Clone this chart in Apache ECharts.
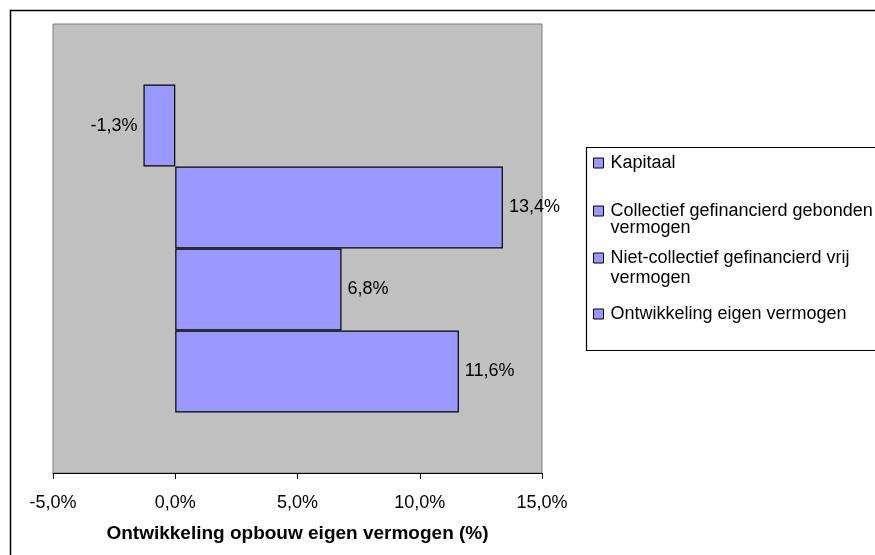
<!DOCTYPE html>
<html>
<head>
<meta charset="utf-8">
<script src="https://cdn.jsdelivr.net/npm/echarts@6/dist/echarts.min.js"></script>
<style>
  html, body { margin: 0; padding: 0; background: #fff; }
  #chart { width: 875px; height: 555px; }
</style>
</head>
<body>
<div id="chart"></div>
<script>
// Series names (legend order) and their values in percent
const seriesNames = [
  'Kapitaal',
  'Collectief gefinancierd gebonden vermogen',
  'Niet-collectief gefinancierd vrij vermogen',
  'Ontwikkeling eigen vermogen'
];
const seriesValues = [-1.3, 13.4, 6.8, 11.6];
// Legend text with line breaks as shown in the legend box
const legendLabels = [
  'Kapitaal',
  'Collectief gefinancierd gebonden\nvermogen',
  'Niet-collectief gefinancierd vrij\nvermogen',
  'Ontwikkeling eigen vermogen'
];
const categories = [''];
const xTicks = { min: -5, max: 15, interval: 5 };
const axisTitle = 'Ontwikkeling opbouw eigen vermogen (%)';

const FONT = '"Liberation Sans", Arial, sans-serif';
const BAR_FILL = '#9999FF';

function pct(v) {
  return v.toFixed(1).replace('.', ',') + '%';
}

const chart = echarts.init(document.getElementById('chart'), null, { renderer: 'canvas' });

const series = seriesNames.map((name, i) => ({
  name: name,
  type: 'bar',
  data: [seriesValues[i]],
  barGap: '0%',
  barCategoryGap: '27%',
  itemStyle: { color: BAR_FILL, borderColor: '#000', borderWidth: 1.2 },
  label: {
    show: true,
    position: seriesValues[i] < 0 ? 'left' : 'right',
    distance: 6,
    formatter: (p) => pct(p.value),
    color: '#000',
    fontFamily: FONT,
    fontSize: 18
  },
  emphasis: { disabled: true },
  animation: false
}));

// One legend block per entry so each row sits at its own height.
// Two-line entries get a blank leading line so the marker lines up
// with the first line of text.
const legendTops = [154, 185, 228, 305];
const legendLineHeights = [18, 17, 20, 18];
const legends = seriesNames.map((name, i) => {
  const twoLine = legendLabels[i].indexOf('\n') >= 0;
  return {
    data: [name],
    left: 593,
    top: legendTops[i],
    orient: 'vertical',
    padding: 0,
    icon: 'rect',
    itemWidth: 10,
    itemHeight: 10,
    selectedMode: false,
    itemStyle: { color: BAR_FILL, borderColor: '#000', borderWidth: 1 },
    formatter: () => (twoLine ? '\n' : '') + legendLabels[i],
    textStyle: {
      color: '#000',
      fontFamily: FONT,
      fontSize: 18,
      lineHeight: legendLineHeights[i],
      padding: [0, 0, 0, 2]
    }
  };
});

chart.setOption({
  animation: false,
  backgroundColor: '#fff',
  graphic: [
    {
      type: 'rect',
      shape: { x: 10.5, y: 10.5, width: 880, height: 560 },
      style: { fill: 'none', stroke: '#000', lineWidth: 1.5 },
      z: -10
    },
    {
      type: 'rect',
      shape: { x: 586.5, y: 147.5, width: 300, height: 203 },
      style: { fill: '#fff', stroke: '#000', lineWidth: 1.2 },
      z: -5
    }
  ],
  grid: {
    left: 53, top: 24, width: 489, height: 449,
    show: true,
    backgroundColor: '#C0C0C0',
    borderColor: '#808080',
    borderWidth: 1
  },
  legend: legends,
  tooltip: { show: false },
  xAxis: {
    type: 'value',
    min: xTicks.min,
    max: xTicks.max,
    interval: xTicks.interval,
    name: axisTitle,
    nameLocation: 'middle',
    nameGap: 51,
    nameTextStyle: { color: '#000', fontFamily: FONT, fontSize: 19, fontWeight: 'bold' },
    axisLine: { show: true, onZero: false, lineStyle: { color: '#000', width: 1 } },
    axisTick: { show: true, length: 6, lineStyle: { color: '#000' } },
    axisLabel: {
      margin: 21,
      color: '#000',
      fontFamily: FONT,
      fontSize: 18,
      formatter: (v) => pct(v)
    },
    splitLine: { show: false }
  },
  yAxis: {
    type: 'category',
    data: categories,
    inverse: true,
    axisLine: { show: false },
    axisTick: { show: false },
    axisLabel: { show: false },
    splitLine: { show: false }
  },
  series: series
});
</script>
</body>
</html>
